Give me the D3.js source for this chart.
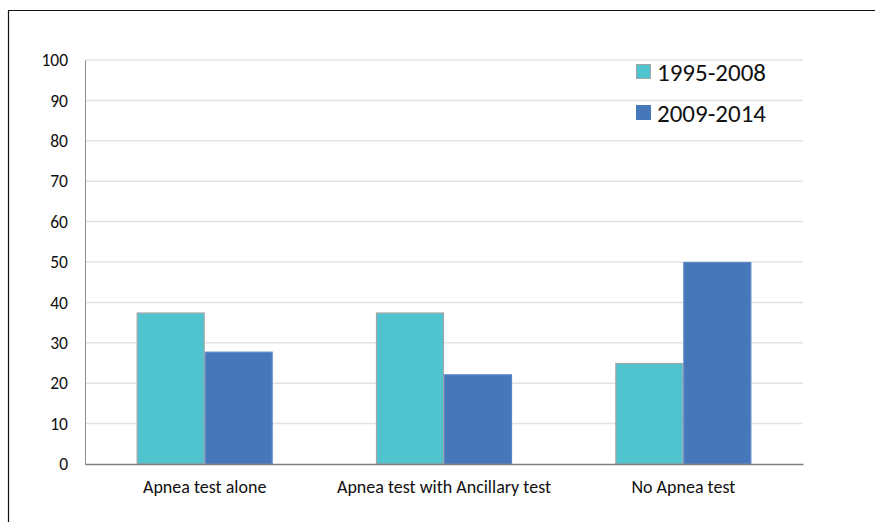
<!DOCTYPE html>
<html>
<head>
<meta charset="utf-8">
<script src="https://cdn.jsdelivr.net/npm/d3@7"></script>
<style>
  html, body { margin: 0; padding: 0; background: #fff; }
  svg { display: block; }
  text { font-family: Carlito, Lato, "Open Sans", sans-serif; fill: #111; }
</style>
</head>
<body>
<script>
const categories = ["Apnea test alone", "Apnea test with Ancillary test", "No Apnea test"];
const seriesNames = ["1995-2008", "2009-2014"];
const values1995 = [37.5, 37.5, 25];
const values2009 = [27.8, 22.2, 50];
const yTicks = [0, 10, 20, 30, 40, 50, 60, 70, 80, 90, 100];
const colors = ["#4fc4cf", "#4777bb"];
const strokes = ["#a6a6a6", "#5a88c6"];

(function () {
  const W = 875, H = 522;
  const font = "Carlito, Lato, 'Open Sans', sans-serif";
  const svg = d3.select("body").append("svg").attr("width", W).attr("height", H);

  // outer frame (top and left edges)
  svg.append("path")
    .attr("d", "M8.5,522 L8.5,10.5 L875,10.5")
    .attr("fill", "none").attr("stroke", "#111").attr("stroke-width", 1.2);

  const mLeft = 85, mRight = 803, mTop = 60, mBottom = 464;
  const groupW = 136;

  const x = d3.scaleBand().domain(categories).range([mLeft, mRight]);
  const x1 = d3.scaleBand().domain(seriesNames).range([0, groupW]);
  const y = d3.scaleLinear().domain([0, 100]).range([mBottom, mTop]);

  // gridlines
  svg.append("g").selectAll("line").data(yTicks.filter(d => d > 0)).join("line")
    .attr("x1", mLeft).attr("x2", mRight)
    .attr("y1", d => y(d)).attr("y2", d => y(d))
    .attr("stroke", "#e3e3e3").attr("stroke-width", 1.5);

  // y axis
  const yAxis = svg.append("g").attr("transform", `translate(${mLeft},0)`)
    .call(d3.axisLeft(y).tickValues(yTicks).tickSize(0).tickPadding(17));
  yAxis.attr("font-size", 17.5).attr("font-family", font);
  yAxis.select(".domain").attr("stroke", "#8c8c8c").attr("stroke-width", 1);
  yAxis.selectAll("text").attr("fill", "#111");

  // bars
  const series = [values1995, values2009];
  series.forEach((vals, si) => {
    svg.append("g").selectAll("rect").data(categories).join("rect")
      .attr("x", c => x(c) + (x.bandwidth() - groupW) / 2 + x1(seriesNames[si]) + 0.5)
      .attr("y", (c, i) => y(vals[i]) + 0.5)
      .attr("width", x1.bandwidth() - 1)
      .attr("height", (c, i) => mBottom - y(vals[i]) - 0.5)
      .attr("fill", colors[si])
      .attr("stroke", strokes[si]).attr("stroke-width", 1.2);
  });

  // x axis
  const xAxis = svg.append("g").attr("transform", `translate(0,${mBottom})`)
    .call(d3.axisBottom(x).tickSize(0).tickPadding(16));
  xAxis.attr("font-size", 18).attr("font-family", font);
  xAxis.select(".domain").attr("stroke", "#808080").attr("stroke-width", 1.5);
  xAxis.selectAll("text").attr("fill", "#111");

  // legend
  const legend = svg.append("g").attr("font-family", font);
  seriesNames.forEach((name, i) => {
    const ly = 72 + i * 41;
    legend.append("rect")
      .attr("x", 636.5).attr("y", ly - 7.5).attr("width", 14).attr("height", 14)
      .attr("fill", colors[i]).attr("stroke", i === 0 ? "#a6a6a6" : colors[i]).attr("stroke-width", 1);
    legend.append("text")
      .attr("x", 657).attr("y", ly + 9)
      .attr("font-size", 25).text(name);
  });
})();
</script>
</body>
</html>
